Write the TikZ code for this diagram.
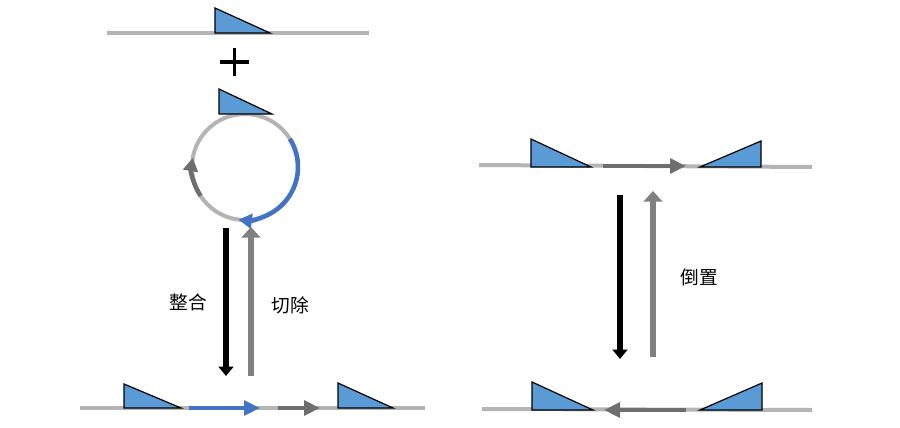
\documentclass[tikz,border=0pt]{standalone}
\usepackage{fontspec}
\newfontfamily\cjk{Noto Sans CJK SC}
\usetikzlibrary{arrows.meta,calc}
\definecolor{lgray}{HTML}{B4B4B4}
\definecolor{dgray}{HTML}{6E6E6E}
\definecolor{mgray}{HTML}{808080}
\definecolor{ablue}{HTML}{4472C4}
\definecolor{tblue}{HTML}{5B9BD5}
\begin{document}
\begin{tikzpicture}[x=0.75pt,y=-0.75pt,
  dna/.style={draw=lgray,line width=3pt},
  site/.style={draw=black,fill=tblue,line width=0.9pt,line join=miter},
  harrow/.style={line width=3.2pt,-{Triangle[width=11pt,length=12pt]}},
  varrow/.style={line width=3.8pt,-{Triangle[width=11pt,length=7pt]}},
  garrow/.style={line width=3.8pt,-{Triangle[width=14pt,length=8pt]}},
  lbl/.style={font=\cjk\fontsize{14}{14}\selectfont,inner sep=0pt}]
\useasboundingbox (0,0) rectangle (900,428);
% ---- top left: linear site + plasmid
\coordinate (l1a) at (107,33); \coordinate (l1b) at (369,33);
\draw[dna] (l1a) -- (l1b);
\draw[site] (215,33) -- (215,8) -- (270,33) -- cycle;
\draw[line width=2.4pt] (220,62) -- (249,62) (234.5,48) -- (234.5,76);
% circle
\coordinate (c) at (245,167);
\draw[dna] (c) circle[radius=53];
\draw[draw=ablue,line width=3.4pt,-{Triangle[width=11pt,length=10pt]}]
  ($(c)+(-32:53)$) arc[start angle=-32,end angle=97,radius=53];
\draw[draw=dgray,line width=3.4pt,-{Triangle[width=11pt,length=10pt]},color=dgray]
  ($(c)+(147:53)$) arc[start angle=147,end angle=190,radius=53];
\draw[site] (219,114) -- (219,89) -- (272,114) -- cycle;
% vertical arrows left
\coordinate (ia) at (226,228); \coordinate (ib) at (226,376);
\coordinate (ea) at (251,376); \coordinate (eb) at (251,227);
\draw[varrow,draw=black,fill=black] (ia) -- (ib);
\draw[garrow,draw=mgray,fill=mgray] (ea) -- (eb);
\node[lbl] (integ) at (188,302) {整合};
\node[lbl] (excis) at (290,305) {切除};
% bottom left line
\coordinate (l2a) at (80,408); \coordinate (l2b) at (425,408);
\draw[dna] (l2a) -- (l2b);
\draw[site] (124,408) -- (124,384) -- (181,408) -- cycle;
\draw[site] (338,408) -- (338,383) -- (393,408) -- cycle;
\coordinate (ba) at (189,408); \coordinate (bb) at (260,408);
\draw[harrow,draw=ablue,fill=ablue] (ba) -- (bb);
\coordinate (ga) at (278,408); \coordinate (gb) at (320,408);
\draw[harrow,draw=dgray,fill=dgray] (ga) -- (gb);
% ---- right: inversion
\coordinate (r1a) at (479,165); \coordinate (r1b) at (812,167);
\draw[dna] (r1a) -- (r1b);
\coordinate (ta) at (603,166); \coordinate (tb) at (686,166);
\draw[harrow,draw=dgray,fill=dgray] (ta) -- (tb);
\draw[site] (531,167) -- (531,139) -- (591,167) -- cycle;
\draw[site] (761,167) -- (761,141) -- (700,167) -- cycle;
\coordinate (va) at (620,195); \coordinate (vb) at (620,359);
\coordinate (wa) at (653,357); \coordinate (wb) at (653,191);
\draw[varrow,draw=black,fill=black] (va) -- (vb);
\draw[garrow,draw=mgray,fill=mgray] (wa) -- (wb);
\node[lbl] (inv) at (699,277) {倒置};
\coordinate (r2a) at (482,409); \coordinate (r2b) at (812,410);
\draw[dna] (r2a) -- (r2b);
\coordinate (ua) at (686,410); \coordinate (ub) at (604,410);
\draw[harrow,draw=dgray,fill=dgray] (ua) -- (ub);
\draw[site] (532,410) -- (532,382) -- (593,410) -- cycle;
\draw[site] (762,410) -- (762,383) -- (700,410) -- cycle;
\end{tikzpicture}
\end{document}
